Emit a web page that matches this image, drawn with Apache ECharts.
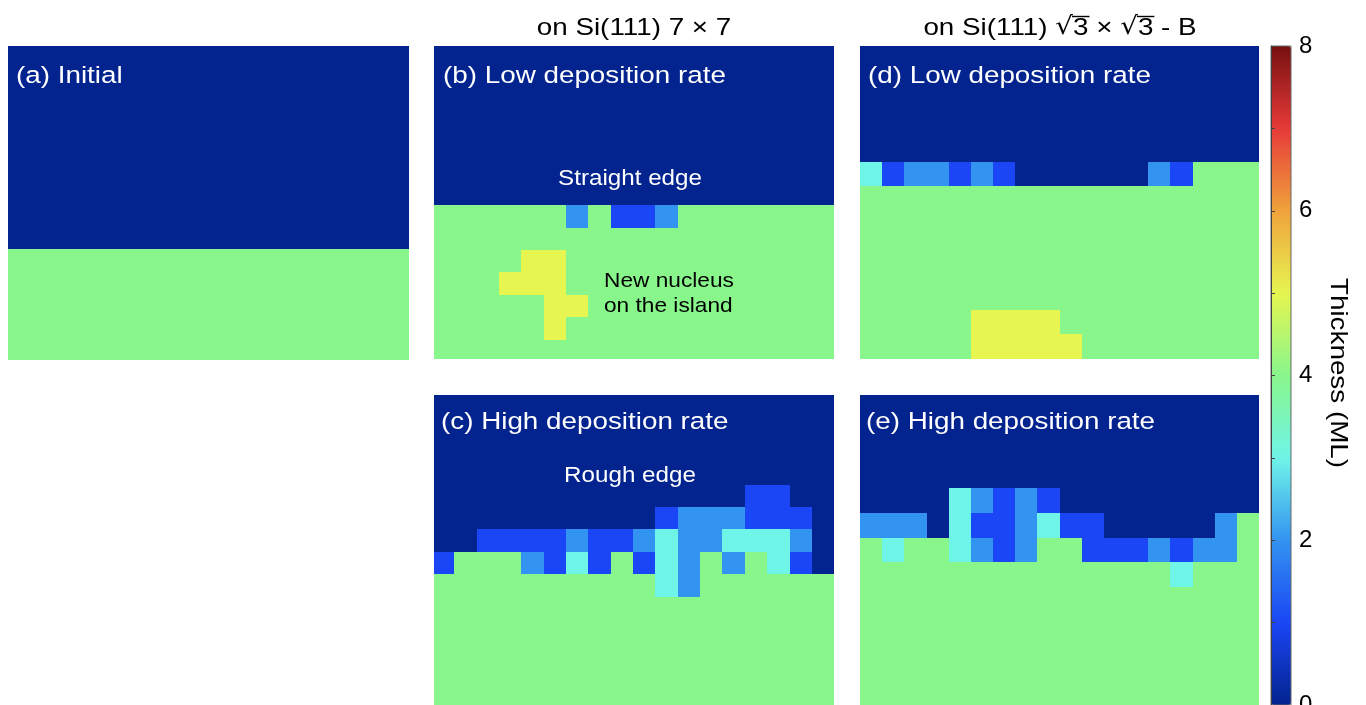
<!DOCTYPE html>
<html>
<head>
<meta charset="utf-8">
<title>Thickness maps</title>
<script src="https://cdn.jsdelivr.net/npm/echarts@6/dist/echarts.min.js"></script>
<style>
  html, body { margin: 0; padding: 0; background: #ffffff; }
  #chart { width: 1366px; height: 705px; }
</style>
</head>
<body>
<div id="chart"></div>
<script>
// Film thickness in ML, one digit per cell, rows listed from top to bottom.
const mapInitial = [
  '000000000000000000',
  '000000000000000000',
  '000000000000000000',
  '000000000000000000',
  '000000000000000000',
  '000000000000000000',
  '000000000000000000',
  '000000000000000000',
  '000000000000000000',
  '000000000000000000',
  '444444444444444444',
  '444444444444444444',
  '444444444444444444',
  '444444444444444444',
  '444444444444444444'
];

const mapLowRate7x7 = [
  '000000000000000000',
  '000000000000000000',
  '000000000000000000',
  '000000000000000000',
  '000000000000000000',
  '000000000000000000',
  '000000000000000000',
  '000000000000000000',
  '444444241124444444',
  '444444444444444444',
  '444455444444444444',
  '444555444444444444',
  '444445544444444444',
  '444445444444444444',
  '444444444444444444'
];

const mapHighRate7x7 = [
  '000000000000000000',
  '000000000000000000',
  '000000000000000000',
  '000000000000000000',
  '000000000000001100',
  '000000000012221110',
  '001111211232233320',
  '144421314132424310',
  '444444444432444444',
  '444444444444444444',
  '444444444444444444',
  '444444444444444444',
  '444444444444444444',
  '444444444444444444'
];

const mapLowRateB = [
  '000000000000000000',
  '000000000000000000',
  '000000000000000000',
  '000000000000000000',
  '000000000000000000',
  '312212100000021444',
  '444444444444444444',
  '444444444444444444',
  '444444444444444444',
  '444444444444444444',
  '444444444444444444',
  '444445555444444444',
  '444445555544444444'
];

const mapHighRateB = [
  '000000000000000000',
  '000000000000000000',
  '000000000000000000',
  '000000000000000000',
  '000032121000000000',
  '222031123110000024',
  '434432124411121224',
  '444444444444443444',
  '444444444444444444',
  '444444444444444444',
  '444444444444444444',
  '444444444444444444',
  '444444444444444444'
];

const panelLabels = [
  '(a) Initial',
  '(b) Low deposition rate',
  '(c) High deposition rate',
  '(d) Low deposition rate',
  '(e) High deposition rate'
];
const columnTitleLeft = 'on Si(111) 7 \u00D7 7';
// Right column title in pieces; a radical followed by its radicand gets a vinculum.
const columnTitleRight = ['on Si(111) ', '\u221A', '3', ' \u00D7 ', '\u221A', '3', ' - B'];
const edgeNotes = ['Straight edge', 'Rough edge'];
const nucleusNote = ['New nucleus', 'on the island'];
const thicknessRange = [0, 8];
const thicknessTickStep = 2;
const colorbarTitle = 'Thickness (ML)';

// Colormap stops, one per integer thickness from 0 to 8 ML.
const thicknessColors = [
  '#03238f', '#1a46f5', '#3393f0', '#6ff5e8', '#89f68c',
  '#e6f550', '#f0a23c', '#e63a38', '#761010'
];

// Panel boxes in px and the visible window of each map in cell units.
const panels = [
  { map: mapInitial,     box: [8, 46, 401, 314],   win: [0, 18, 0.96, 14.95] },
  { map: mapLowRate7x7,  box: [434, 46, 400, 313], win: [0.09, 17.99, 0.886, 14.87] },
  { map: mapHighRate7x7, box: [434, 395, 400, 310], win: [0.09, 17.99, 0, 13.84] },
  { map: mapLowRateB,    box: [860, 46, 399, 313], win: [0, 18, 0.32, 13] },
  { map: mapHighRateB,   box: [860, 395, 399, 310], win: [0, 18, 0.23, 12.76] }
];

function toCells(rows) {
  const cells = [];
  rows.forEach(function (row, r) {
    row.split('').forEach(function (ch, c) {
      cells.push([c, r, Number(ch)]);
    });
  });
  return cells;
}

function renderCell(params, api) {
  const c = api.value(0);
  const r = api.value(1);
  const a = api.coord([c, r]);
  const b = api.coord([c + 1, r + 1]);
  const x0 = Math.round(Math.min(a[0], b[0]));
  const x1 = Math.round(Math.max(a[0], b[0]));
  const y0 = Math.round(Math.min(a[1], b[1]));
  const y1 = Math.round(Math.max(a[1], b[1]));
  const cs = params.coordSys;
  const shape = echarts.graphic.clipRectByRect(
    { x: x0, y: y0, width: x1 - x0, height: y1 - y0 },
    { x: cs.x, y: cs.y, width: cs.width, height: cs.height }
  );
  if (!shape) return;
  return { type: 'rect', shape: shape, style: { fill: api.visual('color') } };
}

const FONT = '"Liberation Sans", Arial, Helvetica, sans-serif';
const RADICAL_FONT = '"DejaVu Sans", sans-serif';
const STRETCH = 1.135;
const TEXT_SIZE = 24.5;

const grids = [];
const xAxes = [];
const yAxes = [];
const series = [];

panels.forEach(function (p, i) {
  grids.push({
    left: p.box[0], top: p.box[1], width: p.box[2], height: p.box[3],
    containLabel: false, outerBoundsMode: 'none'
  });
  xAxes.push({ type: 'value', gridIndex: i, min: p.win[0], max: p.win[1], show: false });
  yAxes.push({ type: 'value', gridIndex: i, min: p.win[2], max: p.win[3], inverse: true, show: false });
  series.push({
    type: 'custom',
    name: panelLabels[i],
    xAxisIndex: i,
    yAxisIndex: i,
    dimensions: ['col', 'row', 'thickness'],
    encode: { x: 0, y: 1 },
    renderItem: renderCell,
    data: toCells(p.map),
    silent: true
  });
});

// Axis carrying the colorbar ticks and labels.
const cbIndex = panels.length;
grids.push({
  left: 1271, top: 46, width: 20, height: 659,
  containLabel: false, outerBoundsMode: 'none',
  show: true, backgroundColor: 'transparent', borderColor: '#666', borderWidth: 1, z: 10
});
xAxes.push({ type: 'value', gridIndex: cbIndex, show: false, min: 0, max: 1 });
yAxes.push({
  type: 'value', gridIndex: cbIndex, position: 'right',
  min: thicknessRange[0], max: thicknessRange[1], interval: thicknessTickStep,
  axisLine: { show: true, lineStyle: { color: '#444', width: 1 } },
  axisTick: { show: true, length: 4, lineStyle: { color: '#444' } },
  minorTick: { show: true, splitNumber: 2, length: 4, lineStyle: { color: '#444' } },
  splitLine: { show: false },
  minorSplitLine: { show: false },
  axisLabel: { color: '#000', fontSize: 24, fontFamily: FONT, margin: 8, hideOverlap: false },
  z: 10
});

function label(text, x, y, opts) {
  opts = opts || {};
  return {
    type: 'text',
    x: x, y: y,
    scaleX: opts.scaleX || STRETCH,
    rotation: opts.rotation || 0,
    z: 100,
    silent: true,
    style: {
      text: text,
      fill: opts.color || '#ffffff',
      fontSize: opts.size || TEXT_SIZE,
      fontFamily: opts.family || FONT,
      textAlign: opts.align || 'left',
      textVerticalAlign: 'middle'
    }
  };
}

// Lays out the right column title piece by piece, centred on cx.
function radicalTitle(pieces, cx, cy) {
  const ctx = document.createElement('canvas').getContext('2d');
  const items = pieces.map(function (t) {
    const family = t === '\u221A' ? RADICAL_FONT : FONT;
    ctx.font = TEXT_SIZE + 'px ' + family;
    return { text: t, family: family, width: ctx.measureText(t).width * STRETCH };
  });
  const total = items.reduce(function (s, it) { return s + it.width; }, 0);
  let x = cx - total / 2;
  const out = [];
  items.forEach(function (it, i) {
    out.push(label(it.text, x, cy, { color: '#000', family: it.family }));
    if (i > 0 && items[i - 1].text === '\u221A') {
      out.push({
        type: 'line', z: 100, silent: true,
        shape: { x1: x - 1, y1: cy - 11.5, x2: x + it.width + 1, y2: cy - 11.5 },
        style: { stroke: '#000', lineWidth: 1.4 }
      });
    }
    x += it.width;
  });
  return out;
}

const graphics = [
  label(panelLabels[0], 16, 76),
  label(panelLabels[1], 443, 76),
  label(panelLabels[2], 441, 422),
  label(panelLabels[3], 868, 76),
  label(panelLabels[4], 866, 422),
  label(columnTitleLeft, 634, 28, { color: '#000', align: 'center' }),
  label(edgeNotes[0], 630, 179, { align: 'center', size: 22, scaleX: 1.1 }),
  label(edgeNotes[1], 630, 476, { align: 'center', size: 22, scaleX: 1.1 }),
  label(nucleusNote[0], 604, 281, { color: '#000', size: 21, scaleX: 1.08 }),
  label(nucleusNote[1], 604, 306, { color: '#000', size: 21, scaleX: 1.08 }),
  label(colorbarTitle, 1338, 373, { color: '#000', align: 'center', rotation: -Math.PI / 2 })
].concat(radicalTitle(columnTitleRight, 1060, 28));

const chart = echarts.init(document.getElementById('chart'), null, { renderer: 'canvas' });
chart.setOption({
  backgroundColor: '#ffffff',
  animation: false,
  tooltip: { show: false },
  grid: grids,
  xAxis: xAxes,
  yAxis: yAxes,
  visualMap: {
    type: 'continuous',
    min: thicknessRange[0],
    max: thicknessRange[1],
    dimension: 2,
    seriesIndex: panels.map(function (_, i) { return i; }),
    calculable: false,
    realtime: false,
    hoverLink: false,
    orient: 'vertical',
    left: 1266,
    top: 41,
    padding: 5,
    itemWidth: 20,
    itemHeight: 659,
    text: null,
    inRange: { color: thicknessColors }
  },
  graphic: graphics,
  series: series
});
</script>
</body>
</html>
